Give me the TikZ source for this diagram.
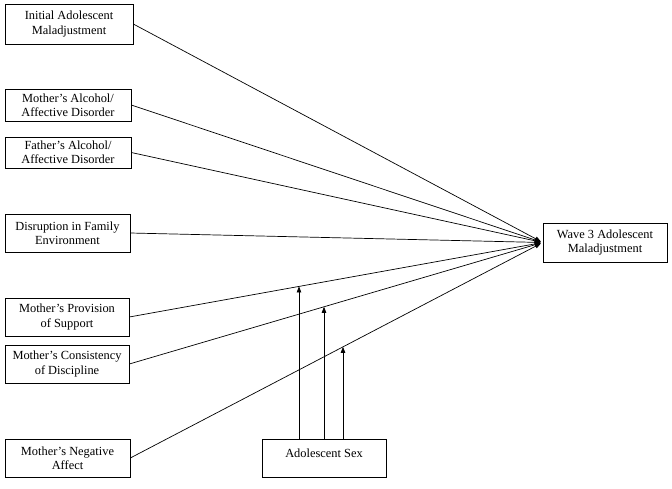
\documentclass[tikz,border=0pt]{standalone}
\usepackage{fontspec}
\setmainfont{Liberation Serif}
\usetikzlibrary{arrows.meta,intersections}
\begin{document}
\begin{tikzpicture}[x=1pt,y=-1pt,
  box/.style={draw, line width=0.6pt, inner sep=0pt, align=center, font=\fontsize{12.4}{14.2}\selectfont},
  conn/.style={line width=0.7pt, -{Triangle[length=6pt,width=4.5pt]}},
  inconn/.style={conn, shorten >=2pt}]
\useasboundingbox (0,0) rectangle (672,488);
\node[box, minimum width=128pt, minimum height=40pt] (init) at (69,24) {Initial Adolescent\\Maladjustment};
\node[box, minimum width=126pt, minimum height=32pt] (malc) at (68,105) {Mother’s Alcohol/\\Affective Disorder};
\node[box, minimum width=126pt, minimum height=31pt] (falc) at (68,152.5) {Father’s Alcohol/\\Affective Disorder};
\node[box, minimum width=125pt, minimum height=38pt] (disr) at (67.5,233) {Disruption in Family\\Environment};
\node[box, minimum width=124pt, minimum height=38pt] (prov) at (67,317) {Mother’s Provision\\of Support};
\node[box, minimum width=124pt, minimum height=38pt] (cons) at (67,364) {Mother’s Consistency\\of Discipline};
\node[box, minimum width=125pt, minimum height=38pt] (neg) at (67.5,458) {Mother’s Negative\\Affect};
\node[box, minimum width=124pt, minimum height=38pt, anchor=north] (sex) at (324,439) {\raisebox{11pt}{Adolescent Sex}};
\node[box, minimum width=124pt, minimum height=39pt] (w3) at (605,242.5) {Wave 3 Adolescent\\Maladjustment};
\draw[inconn] (init.east) -- (w3.west);
\draw[inconn] (malc.east) -- (w3.west);
\draw[inconn] (falc.east) -- (w3.west);
\draw[inconn] (disr.east) -- (w3.west);
\draw[inconn, name path=pp] (prov.east) -- (w3.west);
\draw[inconn, name path=pc] (cons.east) -- (w3.west);
\draw[inconn, name path=pn] (neg.east) -- (w3.west);
\coordinate (x1) at (299,0);
\coordinate (x2) at (324,0);
\coordinate (x3) at (343,0);
\path[name path=v1] (sex.north -| x1) -- ++(0,-250);
\path[name path=v2] (sex.north -| x2) -- ++(0,-250);
\path[name path=v3] (sex.north -| x3) -- ++(0,-250);
\draw[conn, name intersections={of=v1 and pp}] (sex.north -| x1) -- (intersection-1);
\draw[conn, name intersections={of=v2 and pc}] (sex.north -| x2) -- (intersection-1);
\draw[conn, name intersections={of=v3 and pn}] (sex.north -| x3) -- (intersection-1);
\end{tikzpicture}
\end{document}
